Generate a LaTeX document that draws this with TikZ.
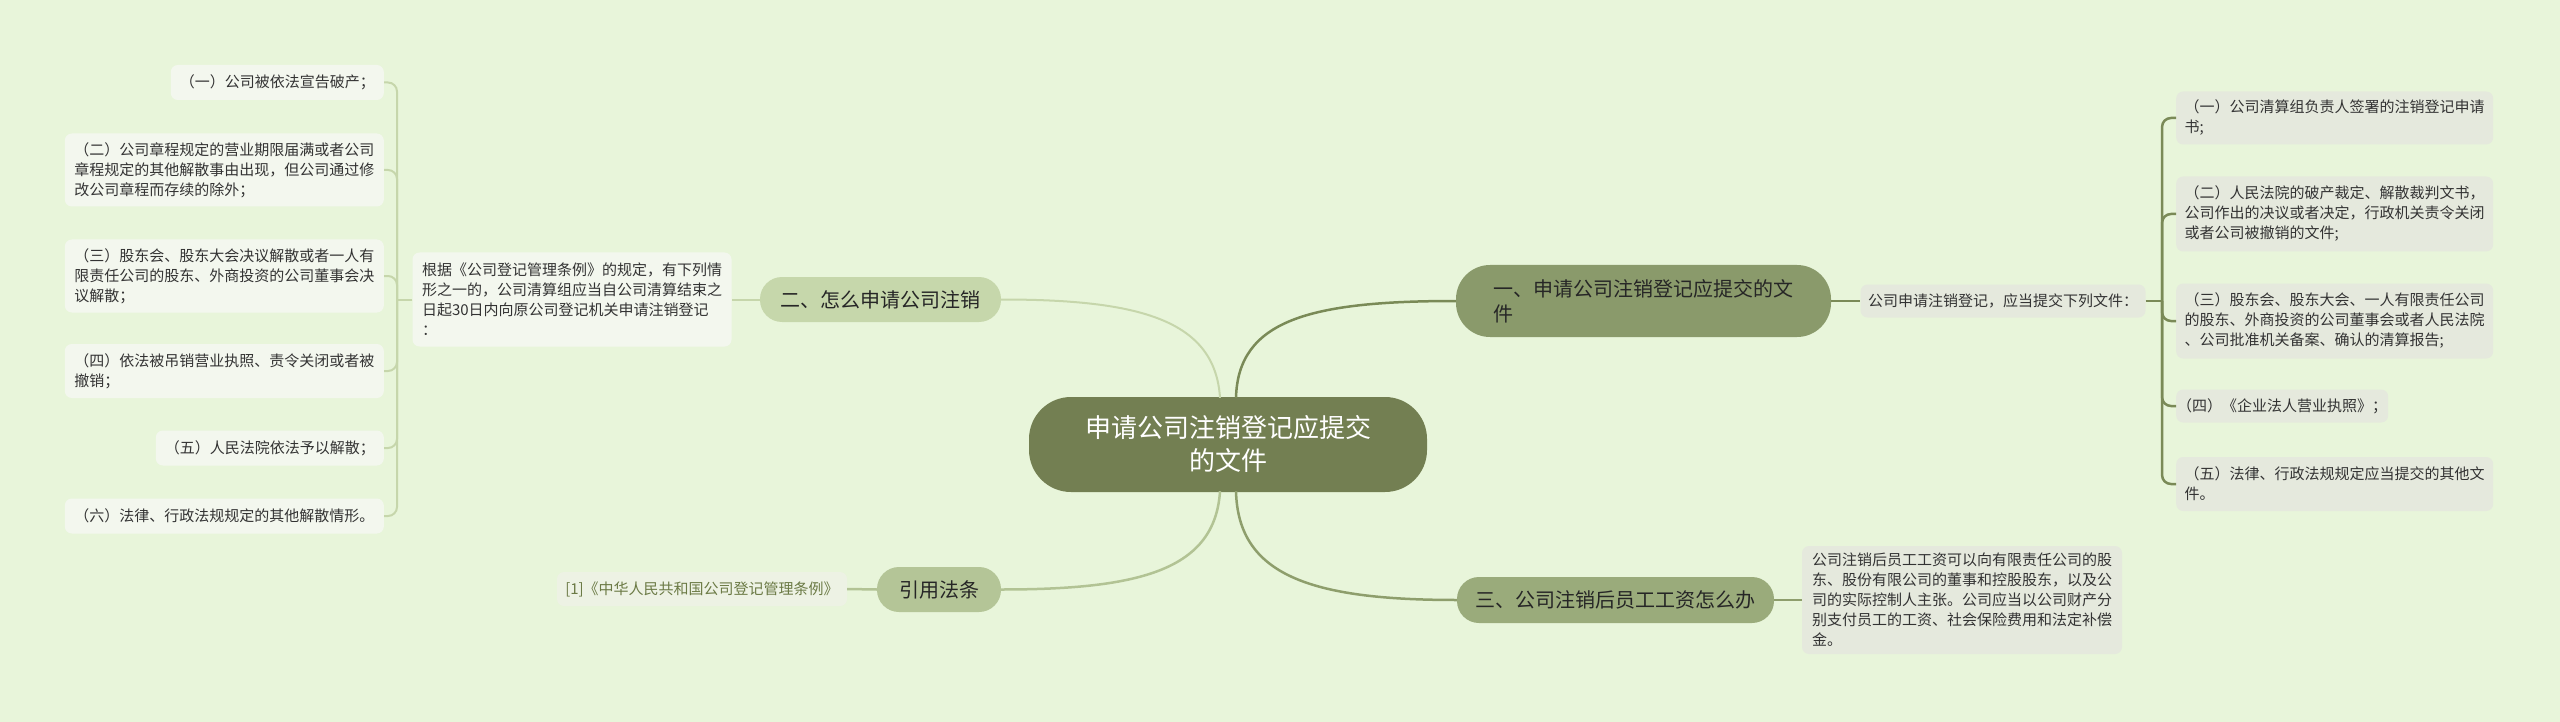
\documentclass[tikz,border=0pt]{standalone}
\usepackage{fontspec}
\setmainfont{Noto Sans CJK SC}
\usetikzlibrary{calc}
\definecolor{bg}{HTML}{E8F5DA}
\definecolor{cMain}{HTML}{737F52}
\definecolor{cOne}{HTML}{8A9A6B}
\definecolor{cThree}{HTML}{9AAB7B}
\definecolor{cTwo}{HTML}{C6D7AB}
\definecolor{cCite}{HTML}{B4C597}
\definecolor{leafR}{HTML}{E5E9DD}
\definecolor{leafL}{HTML}{F3F7EE}
\definecolor{leafC}{HTML}{EDF2E4}
\definecolor{lnDark}{HTML}{7A8A57}
\definecolor{lnMid}{HTML}{8E9E6C}
\definecolor{lnLight}{HTML}{C6D6AB}
\definecolor{lnCite}{HTML}{B2C394}
\definecolor{txt}{HTML}{333333}
\definecolor{citeTxt}{HTML}{6B7A45}
\tikzset{
  centerbox/.style={fill=cMain, rounded corners=42, minimum width=398, minimum height=95, text=white, align=center, font=\fontsize{26}{33}\selectfont, inner sep=0},
  branchbox/.style={rounded corners=22, minimum height=45, text=black!85, font=\fontsize{20}{25}\selectfont, inner sep=0, align=left},
  leafbox/.style={rounded corners=7, text=txt, font=\fontsize{15}{20}\selectfont, inner sep=0, align=left},
  dline/.style={draw=lnDark, line width=2.5},
  mline/.style={draw=lnMid, line width=2.5},
  lline/.style={draw=lnLight, line width=2},
  cline/.style={draw=lnCite, line width=2.5}
}
\begin{document}
\begin{tikzpicture}[x=1pt,y=-1pt]
\useasboundingbox (0,0) rectangle (2560,722);
\fill[bg] (0,0) rectangle (2560,722);

% central
\node[centerbox] (c) at (1228,444.5) {申请公司注销登记应提交\\的文件};

% branches
\node[branchbox, fill=cOne, rounded corners=34, minimum width=375, minimum height=72] (b1) at (1643.5,301) {一、申请公司注销登记应提交的文\\件};
\node[branchbox, fill=cTwo, minimum width=241] (b2) at (880.5,299.5) {二、怎么申请公司注销};
\node[branchbox, fill=cThree, minimum width=317, minimum height=46] (b3) at (1615.5,600) {三、公司注销后员工工资怎么办};
\node[branchbox, fill=cCite, minimum width=124] (b4) at (939,589.5) {引用法条};

% second level
\node[leafbox, fill=leafR, minimum width=285, minimum height=33] (p1) at (2003,301) {公司申请注销登记，应当提交下列文件：};
\node[leafbox, fill=leafL, minimum width=319, minimum height=94] (p2) at (572,299.5) {根据《公司登记管理条例》的规定，有下列情\\形之一的，公司清算组应当自公司清算结束之\\日起30日内向原公司登记机关申请注销登记\\：};
\node[leafbox, fill=leafR, minimum width=320, minimum height=108] (p3) at (1962,600) {公司注销后员工工资可以向有限责任公司的股\\东、股份有限公司的董事和控股股东，以及公\\司的实际控制人主张。公司应当以公司财产分\\别支付员工的工资、社会保险费用和法定补偿\\金。};
\node[leafbox, fill=leafC, text=citeTxt, minimum width=290, minimum height=34] (cite) at (702,589) {[1]《中华人民共和国公司登记管理条例》};

% right leaves
\node[leafbox, fill=leafR, anchor=west, minimum width=317, minimum height=53] (r1) at (2176,118) {（一）公司清算组负责人签署的注销登记申请\\书;};
\node[leafbox, fill=leafR, anchor=west, minimum width=317, minimum height=75] (r2) at (2176,214) {（二）人民法院的破产裁定、解散裁判文书，\\公司作出的决议或者决定，行政机关责令关闭\\或者公司被撤销的文件;};
\node[leafbox, fill=leafR, anchor=west, minimum width=317, minimum height=75] (r3) at (2176,321) {（三）股东会、股东大会、一人有限责任公司\\的股东、外商投资的公司董事会或者人民法院\\、公司批准机关备案、确认的清算报告;};
\node[leafbox, fill=leafR, anchor=west, minimum width=212, minimum height=33] (r4) at (2176,406) {（四）《企业法人营业执照》；};
\node[leafbox, fill=leafR, anchor=west, minimum width=317, minimum height=54] (r5) at (2176,484) {（五）法律、行政法规规定应当提交的其他文\\件。};

% left leaves
\node[leafbox, fill=leafL, anchor=east, minimum width=213, minimum height=35] (l1) at (384,82.5) {（一）公司被依法宣告破产；};
\node[leafbox, fill=leafL, anchor=east, minimum width=319, minimum height=73] (l2) at (384,170) {（二）公司章程规定的营业期限届满或者公司\\章程规定的其他解散事由出现，但公司通过修\\改公司章程而存续的除外；};
\node[leafbox, fill=leafL, anchor=east, minimum width=319, minimum height=73] (l3) at (384,276) {（三）股东会、股东大会决议解散或者一人有\\限责任公司的股东、外商投资的公司董事会决\\议解散；};
\node[leafbox, fill=leafL, anchor=east, minimum width=319, minimum height=54] (l4) at (384,371) {（四）依法被吊销营业执照、责令关闭或者被\\撤销；};
\node[leafbox, fill=leafL, anchor=east, minimum width=228, minimum height=35] (l5) at (384,448) {（五）人民法院依法予以解散；};
\node[leafbox, fill=leafL, anchor=east, minimum width=319, minimum height=35] (l6) at (384,516) {（六）法律、行政法规规定的其他解散情形。};

% anchor points on central node
\coordinate (cNR) at ($(c.north)+(8,1)$);
\coordinate (cNL) at ($(c.north)+(-8,1)$);
\coordinate (cSR) at ($(c.south)+(8,-1)$);
\coordinate (cSL) at ($(c.south)+(-8,-1)$);

\begin{scope}[on background layer/.try]
\end{scope}

% curves from center
\draw[dline] (cNR) .. controls (1238,320) and (1310,301) .. (b1.west);
\draw[lline] (cNL) .. controls (1215,320) and (1140,299.5) .. (b2.east);
\draw[mline] (cSR) .. controls (1238,575) and (1310,600) .. (b3.west);
\draw[cline] (cSL) .. controls (1215,570) and (1140,589.5) .. (b4.east);

% straight connectors
\draw[dline] (b1.east) -- (p1.west);
\draw[mline] (b3.east) -- (p3.west);
\draw[lline] (b2.west) -- (p2.east);
\draw[cline] (b4.west) -- (cite.east);

% right bracket
\coordinate (rb) at (2162,301);
\draw[dline] (p1.east) -- (rb);
\foreach \n in {r1,r2,r3,r4,r5} \draw[dline, rounded corners=9] (rb) |- (\n.west);

% left bracket
\coordinate (lb) at (397,299.5);
\draw[lline] (p2.west) -- (lb);
\foreach \n in {l1,l2,l3,l4,l5,l6} \draw[lline, rounded corners=9] (lb) |- (\n.east);
\end{tikzpicture}
\end{document}
